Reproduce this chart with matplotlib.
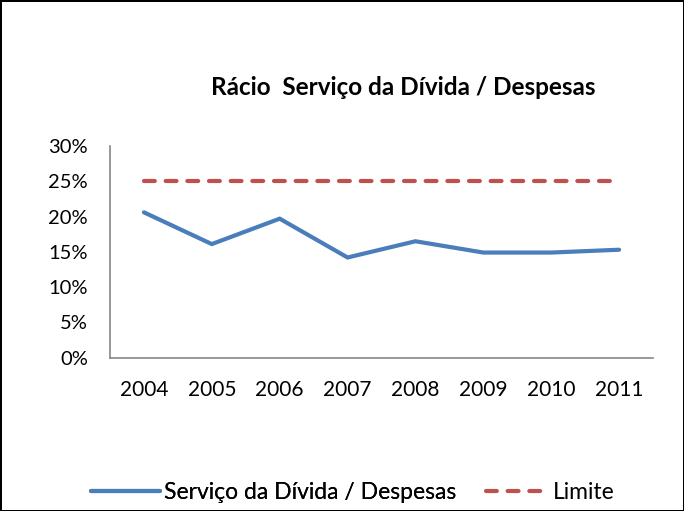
import numpy as np
import matplotlib.pyplot as plt
from matplotlib.ticker import FuncFormatter

# Dados
anos = ['2004', '2005', '2006', '2007', '2008', '2009', '2010', '2011']
servico_divida = [20.6, 16.1, 19.7, 14.2, 16.5, 14.9, 14.9, 15.3]  # %
limite = [25, 25, 25, 25, 25, 25, 25, 25]  # %

plt.rcParams['font.family'] = ['Lato', 'DejaVu Sans']

fig = plt.figure(figsize=(6.84, 5.11), dpi=100)
fig.patch.set_edgecolor('black')
fig.patch.set_linewidth(2)

ax = fig.add_axes([0.1608, 0.300, 0.7939, 0.4143])
x = np.arange(len(anos))

l1, = ax.plot(x, np.array(servico_divida) / 100, color='#4A7EBB', lw=3,
              solid_capstyle='round', solid_joinstyle='miter',
              label='Serviço da Dívida / Despesas')
l2, = ax.plot(x, np.array(limite) / 100, color='#C0504D', lw=3,
              dashes=(2.6, 2.6), dash_capstyle='round', label='Limite')

ax.set_xlim(-0.5, len(anos) - 0.5)
ax.set_ylim(0, 0.30)
ax.set_yticks(np.arange(0, 0.301, 0.05))
ax.yaxis.set_major_formatter(FuncFormatter(lambda v, p: f'{v * 100:.0f}%'))
ax.set_xticks(x)
ax.set_xticklabels(anos)
ax.tick_params(axis='x', length=0, labelsize=15, pad=16)
ax.tick_params(axis='y', length=0, labelsize=14.5, pad=16)

for s in ['top', 'right']:
    ax.spines[s].set_visible(False)
for s in ['left', 'bottom']:
    ax.spines[s].set_color('#868686')
    ax.spines[s].set_linewidth(1.2)

fig.text(0.59, 0.828, 'Rácio  Serviço da Dívida / Despesas',
         ha='center', va='center', fontsize=17.5, fontweight='bold')

# legenda em duas partes (comprimentos de símbolo diferentes)
leg1 = fig.legend(handles=[l1], loc='center left', bbox_to_anchor=(0.133, 0.037),
                  frameon=False, fontsize=16.5, handlelength=3.0, handletextpad=0.18,
                  borderpad=0, borderaxespad=0)
fig.add_artist(leg1)
fig.legend(handles=[l2], loc='center left', bbox_to_anchor=(0.711, 0.037),
           frameon=False, fontsize=16.5, handlelength=2.45, handletextpad=0.45,
           borderpad=0, borderaxespad=0)

fig.savefig('out.png', dpi=100, edgecolor=fig.get_edgecolor())
